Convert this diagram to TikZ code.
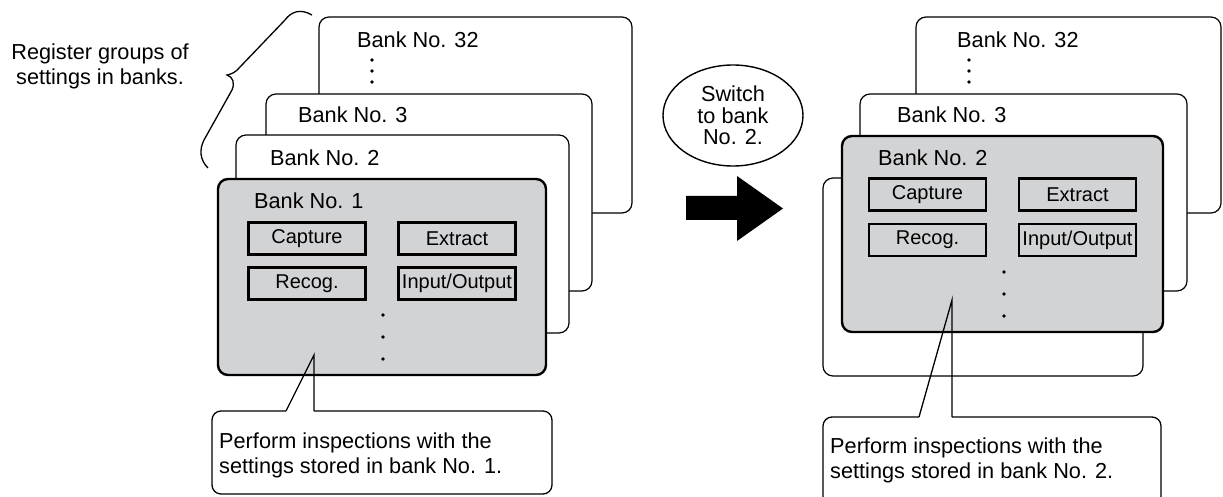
\documentclass[tikz,border=0pt]{standalone}
\usepackage{fontspec}
\setmainfont{Liberation Sans}
\usepackage{xcolor}
\usetikzlibrary{shapes.geometric, positioning}
\definecolor{bankgray}{RGB}{210,211,213}
\tikzset{bank/.style={draw,rounded corners=10pt,line width=1.2pt,fill=white,inner sep=0pt},
  activebank/.style={bank,line width=2.4pt,fill=bankgray},
  unit/.style={draw,line width=2.8pt,fill=bankgray,minimum width=117pt,minimum height=32pt,inner sep=0pt,font=\fontsize{20}{22}\selectfont},
  banklabel/.style={anchor=base west,inner sep=0pt},
  dot/.style={circle,fill=black,inner sep=0pt,minimum size=3.6pt},
  callout/.style={draw,rounded corners=9pt,line width=1.3pt,fill=white,inner sep=0pt},
  pointer/.style={line width=1.3pt}}

\begin{document}
\begin{tikzpicture}[x=1pt,y=-1pt,font=\fontsize{21.7}{25}\selectfont]
      \useasboundingbox (0,0) rectangle (1223,497);
      \clip (0,0) rectangle (1223,497);

      % left stack
      \node[align=center,anchor=base,inner sep=0pt] (register) at (100,85) {Register groups of\\settings in banks.};
      \draw[line width=1.3pt] (312,15) .. controls (300,8) and (291,12) .. (285,20) -- (240,67)
        .. controls (236,72) and (232,74) .. (227,75) .. controls (233,77) and (235,83) .. (232,90)
        -- (204,140) .. controls (199,150) and (200,160) .. (208,168);

      \node[bank,minimum width=313pt,minimum height=196pt] (bankL32) at (475.5,115) {};
      \node[banklabel] (labL32) at (357,48) {Bank No. 32};
      \node[dot] at (372,60) {}; \node[dot] at (372,71) {}; \node[dot] at (372,82) {};
      \node[bank,minimum width=326pt,minimum height=197pt] (bankL3) at (429,192.5) {};
      \node[banklabel] (labL3) at (298,123) {Bank No. 3};
      \node[bank,minimum width=333pt,minimum height=198pt] (bankL2) at (402.5,234) {};
      \node[banklabel] (labL2) at (270,166) {Bank No. 2};
      \node[activebank,minimum width=328pt,minimum height=196pt] (bankL1) at (382,277) {};
      \node[banklabel] (labL1) at (254,209) {Bank No. 1};

      \node[unit] (captureL) at (307,238.5) {Capture};
      \node[unit] (extractL) at (457,238.5) {Extract};
      \node[unit] (recogL) at (307,283.5) {Recog.};
      \node[unit] (ioL) at (457,283.5) {Input/Output};
      \node[dot] at (383,315) {}; \node[dot] at (383,337) {}; \node[dot] at (383,359) {};

      \node[callout,minimum width=340pt,minimum height=83pt] (noteL) at (382,452.5) {};
      \node[anchor=base west,inner sep=0pt,align=left] (noteLtext) at (219,473) {Perform inspections with the\\settings stored in bank No. 1.};
      \coordinate (tipL) at (314,355);
      \coordinate (baseLa) at (286,411);
      \coordinate (baseLb) at (314,411);
      \draw[white,line width=2pt] (baseLa) -- (baseLb);
      \draw[pointer] (baseLa) -- (tipL) -- (baseLb);

      % switch
      \node[draw,ellipse,line width=1.4pt,minimum width=140pt,minimum height=101pt,inner sep=0pt,
        align=center,font=\fontsize{21.7}{21.5}\selectfont] (switch) at (733,115.5) {Switch\\to bank\\No. 2.};
      \fill (686,196) -- (737,196) -- (737,176) -- (783,208.5) -- (737,241) -- (737,220) -- (686,220) -- cycle;

      % right stack
      \node[bank,minimum width=305pt,minimum height=196pt] (bankR32) at (1068.5,115) {};
      \node[banklabel] (labR32) at (957,48) {Bank No. 32};
      \node[dot] at (969,60) {}; \node[dot] at (969,71) {}; \node[dot] at (969,82) {};
      \node[bank,minimum width=327pt,minimum height=197pt] (bankR3) at (1023.5,192.5) {};
      \node[banklabel] (labR3) at (897,123) {Bank No. 3};
      \node[bank,minimum width=320pt,minimum height=198pt] (bankR1) at (983,277) {};
      \node[activebank,minimum width=321pt,minimum height=196pt] (bankR2) at (1002.5,234) {};
      \node[banklabel] (labR2) at (878,166) {Bank No. 2};

      \node[unit] (captureR) at (927.5,194.5) {Capture};
      \node[unit] (extractR) at (1077.5,194.5) {Extract};
      \node[unit] (recogR) at (927.5,240) {Recog.};
      \node[unit] (ioR) at (1077.5,240) {Input/Output};
      \node[dot] at (1004,272) {}; \node[dot] at (1004,294) {}; \node[dot] at (1004,316) {};

      \node[callout,minimum width=338pt,minimum height=103pt] (noteR) at (992,468.5) {};
      \node[anchor=base west,inner sep=0pt,align=left] (noteRtext) at (830,478) {Perform inspections with the\\settings stored in bank No. 2.};
      \coordinate (tipR) at (952,300);
      \coordinate (baseRa) at (919,417);
      \coordinate (baseRb) at (952,417);
      \draw[white,line width=2pt] (baseRa) -- (baseRb);
      \draw[pointer] (baseRa) -- (tipR) -- (baseRb);
  \end{tikzpicture}
\end{document}
